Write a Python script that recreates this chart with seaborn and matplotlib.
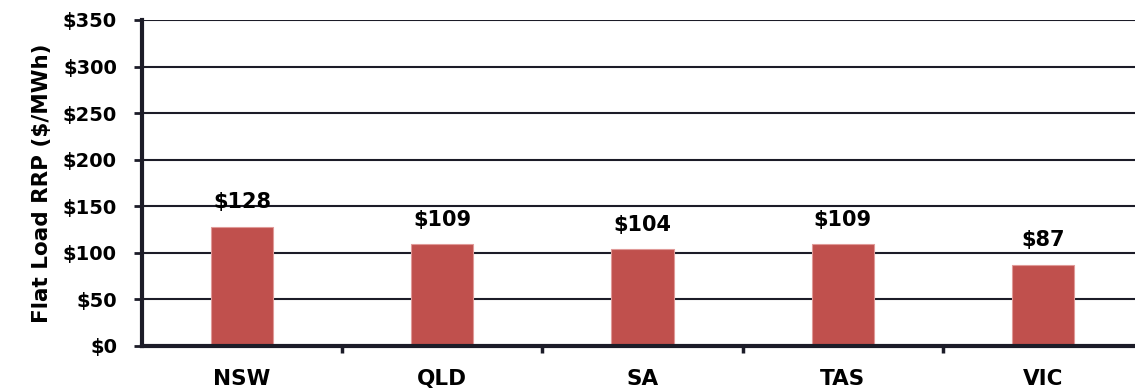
import matplotlib
matplotlib.use("Agg")
import matplotlib.pyplot as plt
import seaborn as sns
import pandas as pd

regions = ["NSW", "QLD", "SA", "TAS", "VIC"]
prices = [128, 109, 104, 109, 87]
yticks = [0, 50, 100, 150, 200, 250, 300, 350]

sns.set_theme(style="white")
plt.rcParams["font.family"] = ["DejaVu Sans"]
plt.rcParams["font.weight"] = "bold"

dark = "#1c1c28"
df = pd.DataFrame({"region": regions, "price": prices})

fig = plt.figure(figsize=(11.35, 3.92), dpi=100)
ax = fig.add_axes([142 / 1135, 46 / 392, 1001 / 1135, 326 / 392])

sns.barplot(data=df, x="region", y="price", color="#C0504D", saturation=1,
            width=0.31, edgecolor="#E09A98", linewidth=0.8, ax=ax, zorder=3)

ax.set_ylim(0, 350)
ax.set_xlim(-0.5, 4.5)
ax.set_yticks(yticks)
ax.set_yticklabels([f"${v}" for v in yticks], fontsize=14, fontweight="bold", color="black")
ax.yaxis.grid(True, color=dark, linewidth=1.5, zorder=0)
ax.set_axisbelow(True)

ax.set_xticks([i + 0.5 for i in range(len(regions) - 1)], minor=False)
ax.set_xticklabels([])
ax.set_xticks(range(len(regions)), minor=True)
ax.set_xticklabels(regions, minor=True, fontsize=15.5, fontweight="bold", color="black")
ax.tick_params(axis="x", which="major", direction="out", length=5, width=2.5, color=dark, bottom=True)
ax.tick_params(axis="x", which="minor", length=0, pad=16.5)
ax.tick_params(axis="y", direction="out", length=6, width=2, color=dark, left=True, pad=12)

for s in ["top", "right"]:
    ax.spines[s].set_visible(False)
for s in ["left", "bottom"]:
    ax.spines[s].set_color(dark)
    ax.spines[s].set_linewidth(3)
    ax.spines[s].set_zorder(4)

ax.set_xlabel("")
ax.set_ylabel("Flat Load RRP ($/MWh)", fontsize=15.5, fontweight="bold", color="black", labelpad=8)

for i, v in enumerate(prices):
    ax.text(i, v + 20, f"${v}", ha="center", va="baseline", fontsize=15,
            fontweight="bold", color="black", zorder=5)

fig.savefig("out.png", dpi=100)
